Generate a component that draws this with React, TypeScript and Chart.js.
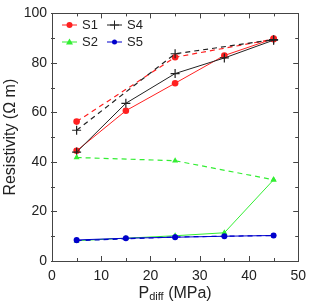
import React, { useEffect, useRef } from "react";
import { Chart, registerables } from "chart.js";

Chart.register(...registerables);

const xAll = [5, 15, 25, 35, 45];
const xDash = [5, 25, 45];
const s1Solid = [44.5, 60.7, 71.8, 83, 89.8];
const s1Dash = [56.3, 82.3, 89.6];
const s4Solid = [44, 63.7, 75.7, 82, 89.2];
const s4Dash = [52.8, 83.7, 89.4];
const s2Solid = [8.2, 9.2, 10.2, 11.4, 32.8];
const s2Dash = [41.8, 40.5, 32.8];
const s5Solid = [8.5, 9.2, 9.6, 10, 10.3];
const s5Dash = [8.2, 9.7, 10.3];
const xTicks = [0, 10, 20, 30, 40, 50];
const yTicks = [0, 20, 40, 60, 80, 100];

const RED = "#ff2020";
const GREEN = "#33ee33";
const BLUE = "#0000cc";
const BLACK = "#222222";
const FONT = "Liberation Sans, Arial, sans-serif";

function pts(xs: number[], ys: number[]) {
  return xs.map((x, i) => ({ x, y: ys[i] }));
}

const legendItems = [
  { label: "S1", color: RED, style: "circle", col: 0, row: 0 },
  { label: "S4", color: BLACK, style: "cross", col: 1, row: 0 },
  { label: "S2", color: GREEN, style: "triangle", col: 0, row: 1 },
  { label: "S5", color: BLUE, style: "circle", col: 1, row: 1 },
];

const framePlugin = {
  id: "frame",
  afterDraw(chart: any) {
    const { ctx, chartArea: a, scales } = chart;
    const xs = scales.x;
    const ys = scales.y;
    ctx.save();
    ctx.strokeStyle = "#444";
    ctx.lineWidth = 1;
    ctx.strokeRect(Math.round(a.left) + 0.5, Math.round(a.top) + 0.5, Math.round(a.right - a.left), Math.round(a.bottom - a.top));
    ctx.beginPath();
    for (let v = 0; v <= 50; v += 5) {
      const px = Math.round(xs.getPixelForValue(v)) + 0.5;
      const len = v % 10 === 0 ? 5 : 3;
      ctx.moveTo(px, a.bottom);
      ctx.lineTo(px, a.bottom - len);
      ctx.moveTo(px, a.top);
      ctx.lineTo(px, a.top + len);
    }
    for (let v = 0; v <= 100; v += 10) {
      const py = Math.round(ys.getPixelForValue(v)) + 0.5;
      const len = v % 20 === 0 ? 5 : 3;
      ctx.moveTo(a.left - 1, py);
      ctx.lineTo(a.left + len, py);
      ctx.moveTo(a.right, py);
      ctx.lineTo(a.right - len, py);
    }
    ctx.stroke();

    ctx.fillStyle = "#222";
    ctx.textBaseline = "middle";
    const cx = (a.left + a.right) / 2;
    const ty = 294;
    ctx.font = `16px ${FONT}`;
    const wP = ctx.measureText("P").width;
    const rest = " (MPa)";
    const wR = ctx.measureText(rest).width;
    ctx.font = `11px ${FONT}`;
    const wD = ctx.measureText("diff").width;
    const total = wP + wD + wR;
    const x0 = cx - total / 2;
    ctx.textAlign = "left";
    ctx.font = `16px ${FONT}`;
    ctx.fillText("P", x0, ty);
    ctx.font = `11px ${FONT}`;
    ctx.fillText("diff", x0 + wP, ty + 3);
    ctx.font = `16px ${FONT}`;
    ctx.fillText(rest, x0 + wP + wD, ty);

    ctx.save();
    ctx.translate(11, (a.top + a.bottom) / 2);
    ctx.rotate(-Math.PI / 2);
    ctx.textAlign = "center";
    ctx.fillText("Resistivity (Ω m)", 0, 0);
    ctx.restore();

    ctx.font = `13px ${FONT}`;
    ctx.textAlign = "left";
    for (const it of legendItems) {
      const lx = 62 + it.col * 45;
      const ly = 25 + it.row * 17;
      ctx.strokeStyle = it.color;
      ctx.fillStyle = it.color;
      ctx.lineWidth = 1;
      ctx.beginPath();
      ctx.moveTo(lx, ly);
      ctx.lineTo(lx + 15, ly);
      ctx.stroke();
      const mx = lx + 7.5;
      if (it.style === "circle") {
        ctx.beginPath();
        ctx.arc(mx, ly, it.color === BLUE ? 2.5 : 3, 0, Math.PI * 2);
        ctx.fill();
      } else if (it.style === "triangle") {
        ctx.beginPath();
        ctx.moveTo(mx, ly - 3.5);
        ctx.lineTo(mx + 3.5, ly + 2.5);
        ctx.lineTo(mx - 3.5, ly + 2.5);
        ctx.closePath();
        ctx.fill();
      } else {
        ctx.beginPath();
        ctx.moveTo(mx - 4.5, ly);
        ctx.lineTo(mx + 4.5, ly);
        ctx.moveTo(mx, ly - 4.5);
        ctx.lineTo(mx, ly + 4.5);
        ctx.stroke();
      }
      ctx.fillStyle = "#222";
      ctx.fillText(it.label, lx + 20, ly + 0.5);
    }
    ctx.restore();
  },
};

function ds(data: any[], color: string, style: string, dashed: boolean, radius: number) {
  return {
    data,
    borderColor: color,
    backgroundColor: color,
    borderWidth: dashed ? 1.2 : 1,
    borderDash: dashed ? [5, 4] : [],
    pointStyle: style,
    pointRadius: radius,
    pointBorderWidth: style === "cross" ? 1.2 : 0,
    pointBorderColor: color,
    pointBackgroundColor: color,
    tension: 0,
    fill: false,
  };
}

export default function App() {
  const ref = useRef<HTMLCanvasElement>(null);
  useEffect(() => {
    document.body.style.margin = "0";
    const chart = new Chart(ref.current!, {
      type: "line",
      data: {
        datasets: [
          ds(pts(xAll, s5Solid), BLUE, "circle", false, 3),
          ds(pts(xDash, s5Dash), BLUE, "circle", true, 2.5),
          ds(pts(xAll, s2Solid), GREEN, "triangle", false, 3.5),
          ds(pts(xDash, s2Dash), GREEN, "triangle", true, 3.5),
          ds(pts(xAll, s4Solid), BLACK, "cross", false, 4.5),
          ds(pts(xDash, s4Dash), BLACK, "cross", true, 4.5),
          ds(pts(xAll, s1Solid), RED, "circle", false, 3.3),
          ds(pts(xDash, s1Dash), RED, "circle", true, 3.3),
        ],
      },
      options: {
        responsive: false,
        animation: false,
        layout: { padding: { top: 7, right: 8, left: 0, bottom: 0 } },
        plugins: { legend: { display: false }, tooltip: { enabled: false } },
        scales: {
          x: {
            type: "linear",
            min: 0,
            max: 50,
            afterBuildTicks: (s: any) => { s.ticks = xTicks.map((v) => ({ value: v })); },
            afterFit: (s: any) => { s.height = 41; },
            grid: { display: false, drawTicks: false },
            border: { display: false },
            ticks: { color: "#222", font: { size: 14, family: FONT }, padding: 7, maxRotation: 0 },
          },
          y: {
            type: "linear",
            min: 0,
            max: 100,
            afterBuildTicks: (s: any) => { s.ticks = yTicks.map((v) => ({ value: v })); },
            afterFit: (s: any) => { s.width = 52; },
            grid: { display: false, drawTicks: false },
            border: { display: false },
            ticks: { color: "#222", font: { size: 14, family: FONT }, padding: 5 },
          },
        },
      },
      plugins: [framePlugin],
    } as any);
    return () => chart.destroy();
  }, []);
  return <canvas ref={ref} width={313} height={302} style={{ display: "block" }} />;
}
